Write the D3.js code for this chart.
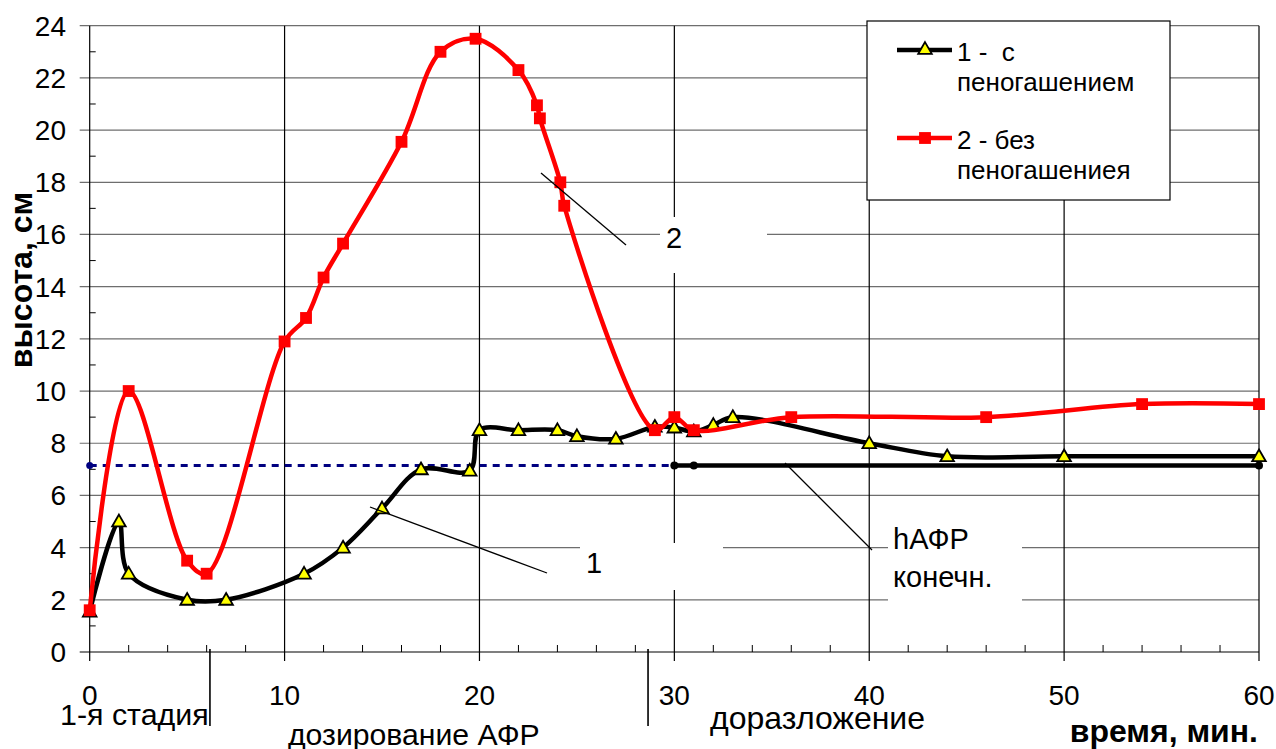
<!DOCTYPE html>
<html><head><meta charset="utf-8">
<script src="https://cdn.jsdelivr.net/npm/d3@7"></script>
<style>
html,body{margin:0;padding:0;background:#fff;}
svg{display:block;font-family:"Liberation Sans",Arial,sans-serif;}
</style></head>
<body>
<svg id="c" width="1276" height="749"></svg>
<script>
// ---- data ----
const s1x = [0, 1.5, 2, 5, 7, 11, 13, 15, 17, 19.5, 20, 22, 24, 25, 27, 29, 30, 31, 32, 33, 40, 44, 50, 60];
const s1y = [1.55, 5.0, 3.0, 2.0, 2.0, 3.0, 4.0, 5.5, 7.0, 6.95, 8.5, 8.5, 8.5, 8.27, 8.17, 8.63, 8.6, 8.45, 8.7, 9.0, 8.0, 7.5, 7.5, 7.5];
const s2x = [0, 2, 5, 6, 10, 11.1, 12, 13, 16, 18, 19.8, 22, 22.95, 23.1, 24.15, 24.35, 29, 30, 31, 36, 46, 54, 60];
const s2y = [1.6, 10.0, 3.5, 3.0, 11.9, 12.8, 14.35, 15.65, 19.55, 23.0, 23.5, 22.3, 20.95, 20.45, 18.0, 17.1, 8.5, 9.0, 8.5, 9.0, 9.0, 9.5, 9.5];
const hInitX = [0, 30];
const hInitY = [7.15, 7.15];
const hFinX = [30, 31, 60];
const hFinY = [7.15, 7.15, 7.15];
const xTicks = [0, 10, 20, 30, 40, 50, 60];
const yTicks = [0, 2, 4, 6, 8, 10, 12, 14, 16, 18, 20, 22, 24];
const stageBounds = [6.17, 28.65];
const stageLabels = ["1-я стадия", "дозирование АФР", "доразложение"];
const legendLabels = [["1 -  с", "пеногашением"], ["2 - без", "пеногашениея"]];
const xTitle = "время, мин.";
const yTitle = "высота, см";

// ---- setup ----
const svg = d3.select("#c");
const x = d3.scaleLinear().domain([0, 60]).range([89.7, 1259]);
const y = d3.scaleLinear().domain([0, 24]).range([652, 25.7]);
const FONT = 28;

// horizontal gridlines (incl. outward major ticks)
svg.append("g").selectAll("line").data(yTicks).join("line")
  .attr("x1", x(0) - 10).attr("x2", x(60))
  .attr("y1", d => y(d)).attr("y2", d => y(d))
  .attr("stroke", d => d === 0 ? "#000" : "#6e6e6e").attr("stroke-width", 1.2);
// minor y ticks
svg.append("g").selectAll("line").data(d3.range(1, 24, 2)).join("line")
  .attr("x1", x(0)).attr("x2", x(0) + 6)
  .attr("y1", d => y(d)).attr("y2", d => y(d))
  .attr("stroke", "#000").attr("stroke-width", 1);
// vertical gridlines
svg.append("g").selectAll("line").data(xTicks).join("line")
  .attr("x1", d => x(d)).attr("x2", d => x(d))
  .attr("y1", y(24)).attr("y2", y(0) + 9)
  .attr("stroke", "#000").attr("stroke-width", 1.2);
// minor x ticks
svg.append("g").selectAll("line").data(d3.range(2, 60, 2).filter(d => d % 10 !== 0)).join("line")
  .attr("x1", d => x(d)).attr("x2", d => x(d))
  .attr("y1", y(0)).attr("y2", y(0) - 7)
  .attr("stroke", "#000").attr("stroke-width", 1);

// tick labels
svg.append("g").selectAll("text").data(yTicks).join("text")
  .attr("x", 66).attr("y", d => y(d) + 10)
  .attr("text-anchor", "end").attr("font-size", FONT).text(d => d);
svg.append("g").selectAll("text").data(xTicks).join("text")
  .attr("x", d => x(d)).attr("y", 705)
  .attr("text-anchor", "middle").attr("font-size", FONT).text(d => d);

// axis titles
svg.append("text").attr("transform", "translate(32,280) rotate(-90)")
  .attr("text-anchor", "middle").attr("font-size", 32).attr("font-weight", "bold").text(yTitle);
svg.append("text").attr("x", 1258).attr("y", 742)
  .attr("text-anchor", "end").attr("font-size", 32).attr("font-weight", "bold").text(xTitle);

// stage separators & labels
svg.append("g").selectAll("line").data(stageBounds).join("line")
  .attr("x1", d => x(d)).attr("x2", d => x(d))
  .attr("y1", 649).attr("y2", 726)
  .attr("stroke", "#000").attr("stroke-width", 1.6);
const stagePos = [[60, 725, 30.4], [288, 745, 30.2], [710, 729, 32]];
svg.append("g").selectAll("text").data(stageLabels).join("text")
  .attr("x", (d, i) => stagePos[i][0]).attr("y", (d, i) => stagePos[i][1])
  .attr("font-size", (d, i) => stagePos[i][2]).text(d => d);

// annotation white boxes
const boxes = [[660, 217, 107, 56], [580, 543, 143, 47], [888, 505, 134, 105]];
svg.append("g").selectAll("rect").data(boxes).join("rect")
  .attr("x", d => d[0]).attr("y", d => d[1]).attr("width", d => d[2]).attr("height", d => d[3])
  .attr("fill", "#fff");

// reference level lines
const line = d3.line().x(d => x(d[0])).y(d => y(d[1]));
svg.append("path").datum(d3.zip(hInitX, hInitY)).attr("d", line)
  .attr("fill", "none").attr("stroke", "#000080").attr("stroke-width", 3).attr("stroke-dasharray", "7,6");
svg.append("circle").attr("cx", x(hInitX[0])).attr("cy", y(hInitY[0])).attr("r", 3.5).attr("fill", "#000080");
svg.append("path").datum(d3.zip(hFinX, hFinY)).attr("d", line)
  .attr("fill", "none").attr("stroke", "#000").attr("stroke-width", 4.5);
svg.append("g").selectAll("circle").data(d3.zip(hFinX, hFinY)).join("circle")
  .attr("cx", d => x(d[0])).attr("cy", d => y(d[1])).attr("r", 4).attr("fill", "#000");

// series
const smooth = d3.line().x(d => x(d[0])).y(d => y(d[1])).curve(d3.curveCatmullRom.alpha(0.5));
const s1 = d3.zip(s1x, s1y), s2 = d3.zip(s2x, s2y);
const tri = d3.symbol().type(d3.symbolTriangle).size(80);
const sq = d3.symbol().type(d3.symbolSquare).size(140);

svg.append("path").datum(s1).attr("d", smooth)
  .attr("fill", "none").attr("stroke", "#000").attr("stroke-width", 4.5).attr("stroke-linejoin", "round");
svg.append("g").selectAll("path").data(s1).join("path")
  .attr("d", tri).attr("transform", d => `translate(${x(d[0])},${y(d[1]) + 1})`)
  .attr("fill", "#ffff00").attr("stroke", "#000").attr("stroke-width", 1.8);

svg.append("path").datum(s2).attr("d", smooth)
  .attr("fill", "none").attr("stroke", "#ff0000").attr("stroke-width", 4.5).attr("stroke-linejoin", "round");
svg.append("g").selectAll("path").data(s2).join("path")
  .attr("d", sq).attr("transform", d => `translate(${x(d[0])},${y(d[1])})`)
  .attr("fill", "#ff0000");

// annotation leaders and labels
const leaders = [[541, 173, 626, 245], [370, 507, 547, 573], [785, 463, 872, 550]];
svg.append("g").selectAll("line").data(leaders).join("line")
  .attr("x1", d => d[0]).attr("y1", d => d[1]).attr("x2", d => d[2]).attr("y2", d => d[3])
  .attr("stroke", "#000").attr("stroke-width", 1.3);
const annots = [["2", 666, 248], ["1", 586, 573], ["hАФР", 893, 549], ["конечн.", 893, 587]];
svg.append("g").selectAll("text").data(annots).join("text")
  .attr("x", d => d[1]).attr("y", d => d[2]).attr("font-size", 29).text(d => d[0]);

// legend
const lg = svg.append("g");
lg.append("rect").attr("x", 867).attr("y", 21).attr("width", 303).attr("height", 179)
  .attr("fill", "#fff").attr("stroke", "#000").attr("stroke-width", 1.2);
const lgY = [50, 138];
lg.append("line").attr("x1", 897).attr("x2", 952).attr("y1", lgY[0]).attr("y2", lgY[0])
  .attr("stroke", "#000").attr("stroke-width", 4.5);
lg.append("path").attr("d", tri).attr("transform", `translate(925,${lgY[0]})`)
  .attr("fill", "#ffff00").attr("stroke", "#000").attr("stroke-width", 1.8);
lg.append("line").attr("x1", 897).attr("x2", 952).attr("y1", lgY[1]).attr("y2", lgY[1])
  .attr("stroke", "#ff0000").attr("stroke-width", 4.5);
lg.append("path").attr("d", sq).attr("transform", `translate(925,${lgY[1]})`).attr("fill", "#ff0000");
legendLabels.forEach((lines, i) => {
  lines.forEach((t, j) => {
    lg.append("text").attr("x", 957).attr("y", lgY[i] + 11 + j * 30)
      .attr("font-size", 26).style("white-space", "pre").text(t);
  });
});
</script>
</body></html>
